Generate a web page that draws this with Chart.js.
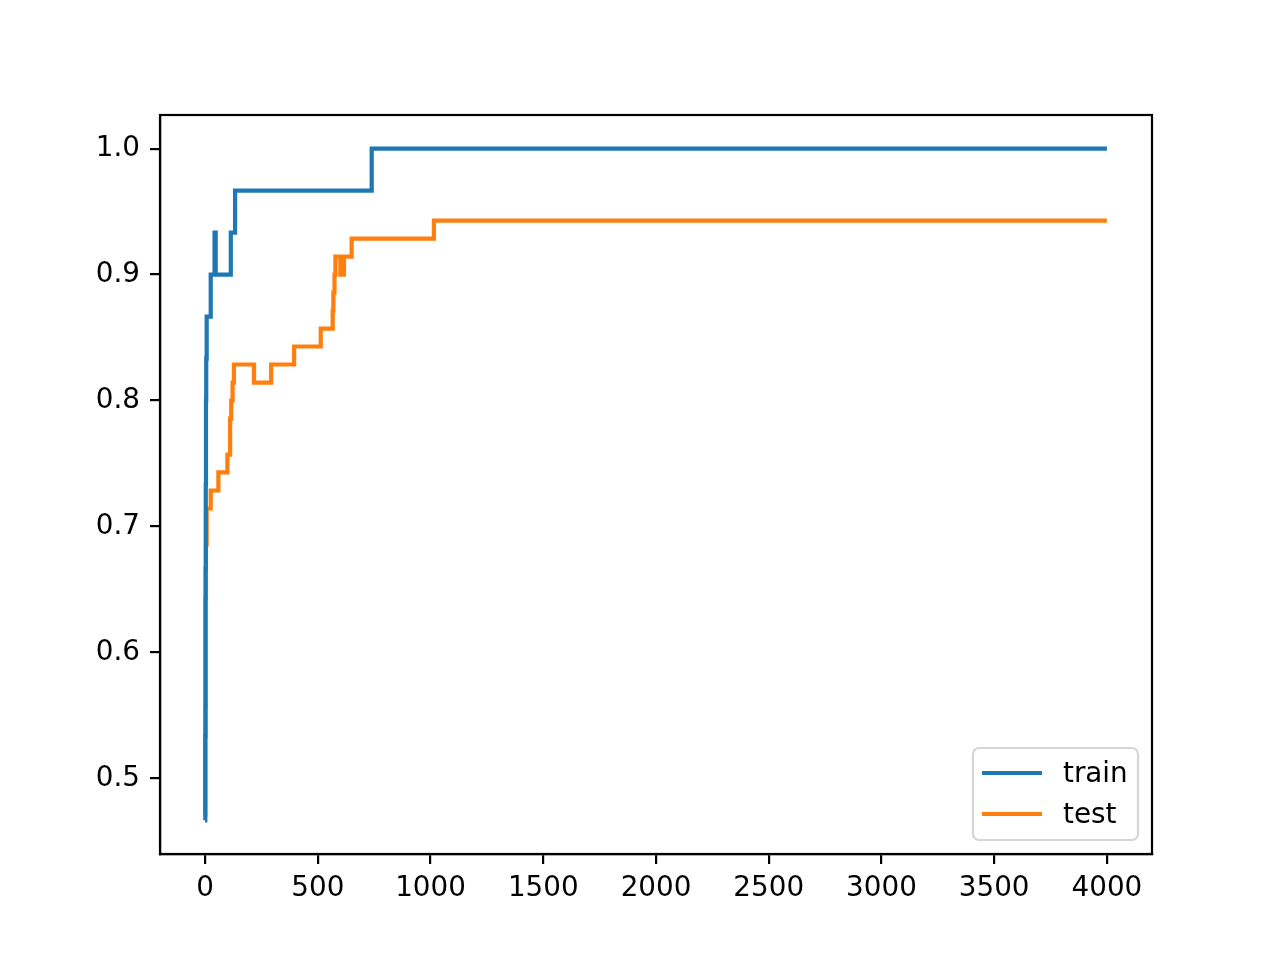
<!DOCTYPE html>
<html>
<head>
<meta charset="utf-8">
<style>
  html, body { margin: 0; padding: 0; background: #fff; }
  canvas { display: block; }
</style>
<script src="https://cdn.jsdelivr.net/npm/chart.js@4"></script>
</head>
<body>
<canvas id="chart" width="1280" height="960"></canvas>
<script>
// data (epoch where the accuracy changes)
const trainEpochs = [0, 1, 2, 3, 4, 5, 7, 25, 42, 47, 114, 133, 739, 4000];
const trainAcc = [0.4667, 0.5333, 0.6667, 0.7333, 0.8, 0.8333, 0.8667, 0.9, 0.9333, 0.9, 0.9333, 0.9667, 1.0, 1.0];

const testEpochs = [0, 1, 2, 4, 7, 25, 59, 99, 111, 116, 122, 128, 217, 293, 395, 513, 566, 569, 574, 578, 600, 616, 650, 1015, 4000];
const testAcc = [0.4714, 0.5571, 0.6429, 0.6857, 0.7143, 0.7286, 0.7429, 0.7571, 0.7857, 0.8, 0.8143, 0.8286, 0.8143, 0.8286, 0.8429, 0.8571, 0.8714, 0.8857, 0.9, 0.9143, 0.9, 0.9143, 0.9286, 0.9429, 0.9429];

const xTicks = [0, 500, 1000, 1500, 2000, 2500, 3000, 3500, 4000];
const yTicks = [0.5, 0.6, 0.7, 0.8, 0.9, 1.0];
const seriesNames = ["train", "test"];

const FONT = "'DejaVu Sans', sans-serif";
const FONT_SIZE = 27.8;
const LINE_W = 4.2;
const SPINE_W = 2.2;

function toPoints(xs, ys) {
  return xs.map((x, i) => ({ x: x, y: ys[i] }));
}

// full box round the plot like matplotlib spines
const frameBox = {
  id: "frameBox",
  afterDraw(chart) {
    const { ctx, chartArea: a } = chart;
    ctx.save();
    ctx.strokeStyle = "#000";
    ctx.lineWidth = SPINE_W;
    ctx.strokeRect(a.left, a.top, a.right - a.left, a.bottom - a.top);
    ctx.restore();
  }
};

// legend in the lower right corner
const cornerLegend = {
  id: "cornerLegend",
  afterDraw(chart) {
    const { ctx, chartArea: a } = chart;
    const w = 165, h = 92, r = 6;
    const x0 = a.right - 14 - w, y0 = a.bottom - 14 - h;
    ctx.save();
    ctx.beginPath();
    ctx.roundRect(x0, y0, w, h, r);
    ctx.fillStyle = "rgba(255,255,255,0.8)";
    ctx.fill();
    ctx.strokeStyle = "#d6d6d6";
    ctx.lineWidth = SPINE_W;
    ctx.stroke();
    ctx.font = FONT_SIZE + "px " + FONT;
    ctx.textBaseline = "middle";
    chart.data.datasets.forEach((ds, i) => {
      const y = y0 + 25 + i * 41;
      ctx.strokeStyle = ds.borderColor;
      ctx.lineWidth = LINE_W;
      ctx.beginPath();
      ctx.moveTo(x0 + 9, y);
      ctx.lineTo(x0 + 69, y);
      ctx.stroke();
      ctx.fillStyle = "#000";
      ctx.fillText(ds.label, x0 + 90, y + 2);
    });
    ctx.restore();
  }
};

new Chart(document.getElementById("chart"), {
  type: "line",
  data: {
    datasets: [
      {
        label: seriesNames[0],
        data: toPoints(trainEpochs, trainAcc),
        borderColor: "#1f77b4",
        borderWidth: LINE_W,
        stepped: "before",
        pointRadius: 0,
        fill: false
      },
      {
        label: seriesNames[1],
        data: toPoints(testEpochs, testAcc),
        borderColor: "#ff7f0e",
        borderWidth: LINE_W,
        stepped: "before",
        pointRadius: 0,
        fill: false
      }
    ]
  },
  options: {
    responsive: false,
    devicePixelRatio: 1,
    animation: false,
    layout: { padding: { left: 0, top: 115, right: 128, bottom: 0 } },
    plugins: { legend: { display: false }, tooltip: { enabled: false } },
    scales: {
      x: {
        type: "linear",
        min: -200,
        max: 4200,
        afterBuildTicks(axis) { axis.ticks = xTicks.map(v => ({ value: v })); },
        afterFit(axis) { axis.height = 106; },
        grid: { drawOnChartArea: false, drawTicks: true, tickLength: 10, color: "#000", lineWidth: SPINE_W },
        border: { display: true, color: "#000", width: SPINE_W },
        ticks: {
          color: "#000",
          padding: 8,
          maxRotation: 0,
          font: { family: FONT, size: FONT_SIZE },
          callback: v => String(v)
        }
      },
      y: {
        type: "linear",
        min: 0.44,
        max: 1.0267,
        afterBuildTicks(axis) { axis.ticks = yTicks.map(v => ({ value: v })); },
        afterFit(axis) { axis.width = 160; },
        grid: { drawOnChartArea: false, drawTicks: true, tickLength: 10, color: "#000", lineWidth: SPINE_W },
        border: { display: true, color: "#000", width: SPINE_W },
        ticks: {
          color: "#000",
          padding: 10,
          font: { family: FONT, size: FONT_SIZE },
          callback: v => v.toFixed(1)
        }
      }
    }
  },
  plugins: [frameBox, cornerLegend]
});
</script>
</body>
</html>
